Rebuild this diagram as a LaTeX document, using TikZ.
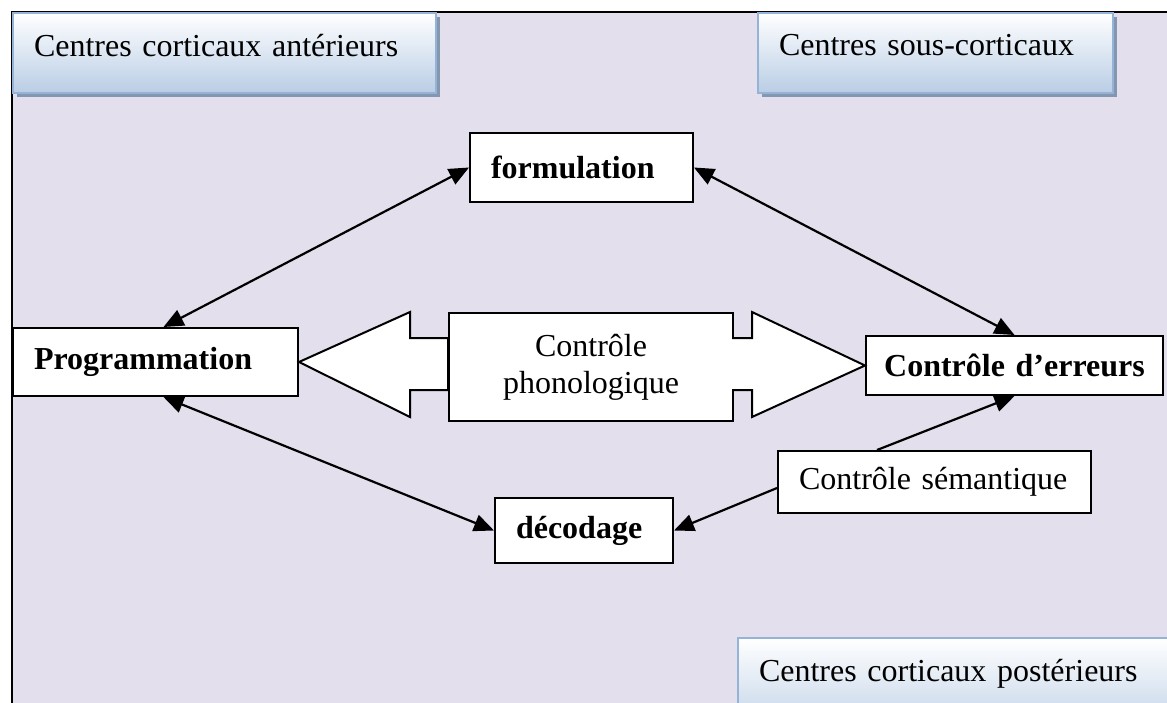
\documentclass[tikz,border=0pt]{standalone}
\usepackage{fontspec}
\setmainfont{Liberation Serif}
\usepackage{tikz}
\usetikzlibrary{positioning,arrows.meta,shadows}
\definecolor{lavande}{HTML}{E4DFEC}
\definecolor{bleuclair}{HTML}{B9CDE5}
\definecolor{bleubord}{HTML}{95B3D7}
\definecolor{bleuombre}{HTML}{8497B0}
\tikzset{every node/.style={font=\fontsize{32}{36.8}\selectfont}}

\begin{document}
\begin{tikzpicture}[x=1pt,y=-1pt,
  entete/.style={draw=bleubord, line width=2pt, top color=white, bottom color=bleuclair, inner ysep=0pt, inner xsep=21pt, align=left, anchor=north west},
  ombre/.style={drop shadow={shadow xshift=4pt, shadow yshift=-4pt, fill=bleuombre, opacity=1}},
  bloc/.style={draw, line width=2pt, fill=white, inner ysep=0pt, inner xsep=21pt, align=left, anchor=north west},
  fleche/.style={draw, line width=2pt, fill=white, line join=miter},
  lien/.style={line width=2.2pt, {Triangle[length=20pt,width=17pt]}-{Triangle[length=20pt,width=17pt]}},
  lienun/.style={line width=2.2pt, -{Triangle[length=20pt,width=17pt]}}]
 \clip (0,0) rectangle (1167,702);
 \fill[lavande] (12,12) rectangle (1180,720);
 \draw[line width=2pt] (1180,12) -- (12,12) -- (12,720);
 \node[entete, ombre, text width=381pt, text height=43pt, text depth=37pt] (ant) at (12,12) {Centres corticaux antérieurs};
 \node[entete, ombre, text width=313pt, text height=42pt, text depth=38pt] (sous) at (757,12) {Centres sous-corticaux};
 \node[entete, text width=460pt, text height=43pt, text depth=60pt] (post) at (737,637) {Centres corticaux postérieurs};
 \node[bloc, text width=181pt, minimum height=69pt] (form) at (469,132) {\textbf{formulation}};
 \node[bloc, text width=243pt, minimum height=68pt] (prog) at (12,327) {\textbf{Programmation}};
 \node[bloc, align=center, text width=242pt, minimum height=108pt] (phono) at (448,312) {Contrôle\\phonologique};
 \node[bloc, align=center, inner xsep=17.5pt, text width=262pt, minimum height=59pt] (err) at (865,335) {\textbf{Contrôle d’erreurs}};
 \node[bloc, text width=136pt, minimum height=65pt] (deco) at (494,497) {\textbf{décodage}};
 \node[bloc, text width=271pt, minimum height=62pt] (sem) at (777,450) {Contrôle sémantique};
 \draw[fleche] (prog.east) -- (410,312) -- (410,338) -- (448,338) -- (448,390) -- (410,390) -- (410,417) -- cycle;
 \draw[fleche] (732,338) -- (752,338) -- (752,312) -- (err.west) -- (752,417) -- (752,390) -- (732,390);
 \draw[lien] ([xshift=8pt]prog.north) -- (form.west);
 \draw[lien] (form.east) -- (err.north);
 \draw[lien] ([xshift=8pt]prog.south) -- (deco.west);
 \draw[lienun] ([yshift=-6pt]sem.west) -- (deco.east);
 \draw[lienun] ([xshift=100pt]sem.north west) -- (err.south);
\end{tikzpicture}
\end{document}
